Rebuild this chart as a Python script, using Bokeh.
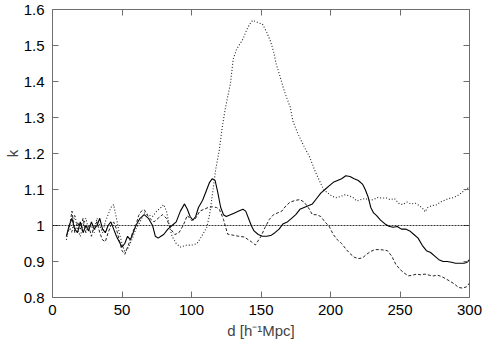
from bokeh.plotting import figure
from bokeh.models import Range1d, LinearAxis, FixedTicker, Span
from bokeh.embed import file_html
from bokeh.resources import INLINE

# ---- data ----
solid_x = [10, 12, 14, 16, 18, 20, 22, 24, 26, 28, 30, 32, 34, 36, 38, 40, 42, 44, 46, 48,
           50, 52, 54, 56, 58, 60, 63, 66, 69, 72, 74, 76, 78, 80, 83, 86, 89, 92, 95, 97,
           99, 101, 103, 105, 108, 111, 113, 115, 117, 119, 121, 123, 125, 128, 131, 134, 137, 139, 141, 143,
           145, 148, 151, 154, 157, 160, 163, 166, 169, 172, 175, 178, 181, 184, 187, 190, 193, 196, 199, 202,
           205, 208, 211, 214, 217, 220, 223, 225, 227, 229, 231, 233, 236, 239, 242, 245, 248, 251, 254, 257,
           260, 263, 266, 269, 272, 275, 278, 281, 284, 287, 290, 293, 296, 298, 300]
solid_y = [0.97, 1.00, 1.02, 0.99, 0.98, 1.01, 0.98, 1.00, 0.985, 1.01, 0.99, 1.00, 1.02, 0.99, 0.98, 1.00, 1.01, 0.99, 0.97, 0.955,
           0.94, 0.95, 0.97, 0.96, 0.98, 1.00, 1.02, 1.03, 1.02, 1.00, 0.97, 0.965, 0.97, 0.975, 0.99, 1.00, 1.01, 1.04, 1.06, 1.045,
           1.025, 1.015, 1.025, 1.05, 1.07, 1.10, 1.12, 1.13, 1.125, 1.09, 1.05, 1.03, 1.025, 1.03, 1.035, 1.04, 1.045, 1.04, 1.02, 1.00,
           0.985, 0.975, 0.97, 0.97, 0.972, 0.98, 0.99, 1.005, 1.01, 1.02, 1.03, 1.045, 1.05, 1.055, 1.06, 1.075, 1.09, 1.10, 1.11, 1.12,
           1.125, 1.13, 1.138, 1.136, 1.13, 1.125, 1.115, 1.10, 1.08, 1.05, 1.035, 1.028, 1.015, 1.005, 0.998, 0.995, 0.997, 0.99, 0.99, 0.985,
           0.975, 0.965, 0.945, 0.93, 0.925, 0.915, 0.905, 0.90, 0.90, 0.898, 0.895, 0.895, 0.895, 0.897, 0.905]

dotted_x = [10, 12, 14, 16, 18, 20, 22, 24, 26, 28, 30, 32, 34, 36, 38, 40, 42, 44, 46, 48,
            50, 52, 54, 57, 60, 63, 66, 69, 72, 75, 78, 80, 82, 84, 86, 89, 92, 96, 101, 104,
            107, 111, 113, 115, 117.5, 120, 122, 124.5, 128, 130, 132.5, 135, 137, 140, 142, 144, 147, 149, 151, 154,
            157, 159, 161, 164, 166, 168, 171, 173, 176, 179, 182, 185, 187, 189, 192, 195, 198, 201, 204, 207,
            210, 213, 216, 219, 222, 225, 228, 231, 234, 237, 240, 243, 246, 249, 252, 255, 258, 261, 264, 267,
            268, 270, 273, 276, 279, 282, 285, 288, 291, 294, 297, 299, 300]
dotted_y = [0.96, 1.00, 0.98, 1.03, 0.99, 0.97, 1.00, 1.02, 0.99, 1.00, 0.98, 1.02, 1.00, 0.98, 1.01, 1.03, 1.05, 1.058, 1.02, 0.98,
            0.95, 0.927, 0.935, 0.96, 0.99, 1.01, 1.035, 1.03, 1.025, 1.04, 1.05, 1.058, 1.04, 1.00, 0.97, 0.95, 0.94, 0.945, 0.946, 0.95,
            0.968, 0.995, 1.03, 1.085, 1.158, 1.21, 1.27, 1.329, 1.394, 1.462, 1.49, 1.505, 1.518, 1.546, 1.56, 1.57, 1.565, 1.562, 1.56, 1.538,
            1.51, 1.483, 1.448, 1.41, 1.383, 1.36, 1.329, 1.29, 1.26, 1.235, 1.212, 1.19, 1.17, 1.15, 1.125, 1.10, 1.09, 1.082, 1.077, 1.08,
            1.085, 1.083, 1.078, 1.068, 1.072, 1.075, 1.07, 1.072, 1.078, 1.076, 1.077, 1.072, 1.075, 1.062, 1.058, 1.065, 1.06, 1.062, 1.055, 1.045,
            1.038, 1.05, 1.055, 1.057, 1.065, 1.07, 1.075, 1.077, 1.082, 1.09, 1.10, 1.104, 1.10]

dashed_x = [10, 12, 14, 16, 18, 20, 22, 24, 26, 28, 30, 32, 34, 36, 38, 40, 42, 44, 46, 48,
            50, 52, 54, 56, 58, 60, 62, 64, 66, 68, 70, 73, 76, 79, 82, 85, 88, 91, 94, 97,
            100, 103, 106, 109, 112, 115, 118, 120, 123, 126, 130, 134, 138, 143, 146, 150, 153, 156, 159, 162,
            165, 168, 171, 175, 178, 181, 184, 187, 190, 193, 196, 199, 202, 205, 208, 211, 214, 217, 220, 223,
            226, 229, 232, 235, 238, 241, 244, 247, 250, 253, 256, 259, 262, 265, 268, 271, 274, 277, 280, 283,
            286, 289, 292, 295, 298, 300]
dashed_y = [0.97, 0.99, 1.04, 0.98, 1.01, 0.99, 1.02, 0.98, 1.00, 0.97, 1.00, 1.01, 0.98, 0.96, 0.955, 0.98, 1.00, 1.01, 0.99, 0.96,
            0.93, 0.92, 0.94, 0.96, 0.985, 1.00, 1.028, 1.04, 1.044, 1.03, 1.02, 1.01, 1.02, 1.03, 1.02, 0.99, 0.975, 0.98, 1.00, 1.028,
            1.014, 1.02, 1.04, 1.045, 1.05, 1.052, 1.05, 1.045, 1.017, 0.976, 0.973, 0.97, 0.968, 0.955, 0.946, 0.97, 0.995, 1.017, 1.03, 1.035,
            1.04, 1.055, 1.065, 1.07, 1.072, 1.065, 1.05, 1.03, 1.03, 1.025, 1.01, 0.998, 0.975, 0.96, 0.95, 0.935, 0.922, 0.912, 0.908, 0.91,
            0.92, 0.928, 0.933, 0.933, 0.932, 0.93, 0.915, 0.892, 0.878, 0.868, 0.86, 0.862, 0.865, 0.863, 0.865, 0.862, 0.86, 0.862, 0.858, 0.852,
            0.845, 0.838, 0.828, 0.826, 0.83, 0.84]

x_ticks = [0, 50, 100, 150, 200, 250, 300]
y_ticks = [0.8, 0.9, 1.0, 1.1, 1.2, 1.3, 1.4, 1.5, 1.6]
y_tick_labels = ["0.8", "0.9", "1", "1.1", "1.2", "1.3", "1.4", "1.5", "1.6"]
reference_level = 1.0

FONT = "Liberation Sans"
AXIS_COLOR = "#6e6e6e"

p = figure(width=483, height=341, output_backend="svg", toolbar_location=None,
           x_range=Range1d(0, 300), y_range=Range1d(0.8, 1.6),
           min_border_left=0, min_border_right=14, min_border_top=9, min_border_bottom=0,
           background_fill_color="white", border_fill_color="white")
p.grid.visible = False
p.outline_line_color = AXIS_COLOR
p.outline_line_width = 1


def style_axis(ax, show_labels):
    ax.major_tick_in = 6
    ax.major_tick_out = 0
    ax.minor_tick_in = 0
    ax.minor_tick_out = 0
    ax.major_tick_line_color = AXIS_COLOR
    ax.axis_line_color = None
    if show_labels:
        ax.major_label_text_font = FONT
        ax.major_label_text_font_size = "15px"
        ax.major_label_text_color = "black"
    else:
        ax.major_label_text_color = None
        ax.major_label_text_font_size = "1px"
        ax.major_label_standoff = 0


xa = p.xaxis[0]
ya = p.yaxis[0]
xa.ticker = FixedTicker(ticks=x_ticks)
ya.ticker = FixedTicker(ticks=y_ticks)
ya.major_label_overrides = {t: s for t, s in zip(y_ticks, y_tick_labels)}
style_axis(xa, True)
style_axis(ya, True)
xa.major_label_standoff = 7
ya.major_label_standoff = 8
xa.axis_label = "d [h\u207b\u00b9Mpc]"
xa.axis_label_text_font = FONT
xa.axis_label_text_font_size = "15px"
xa.axis_label_text_font_style = "normal"
xa.axis_label_standoff = 4
ya.axis_label = "k"
ya.axis_label_text_font = FONT
ya.axis_label_text_font_size = "15px"
ya.axis_label_text_font_style = "normal"
ya.axis_label_standoff = 0

top = LinearAxis(ticker=FixedTicker(ticks=x_ticks))
right = LinearAxis(ticker=FixedTicker(ticks=y_ticks))
style_axis(top, False)
style_axis(right, False)
p.add_layout(top, "above")
p.add_layout(right, "right")

p.add_layout(Span(location=reference_level, dimension="width", line_color="black",
                  line_width=1, line_dash="2 1", line_alpha=0.8))

p.line(solid_x, solid_y, line_color="black", line_width=1.1)
p.line(dotted_x, dotted_y, line_color="#222222", line_width=1.1, line_dash="1 2")
p.line(dashed_x, dashed_y, line_color="#222222", line_width=1.0, line_dash="3 2")

open("out.html", "w").write(file_html(p, INLINE))
